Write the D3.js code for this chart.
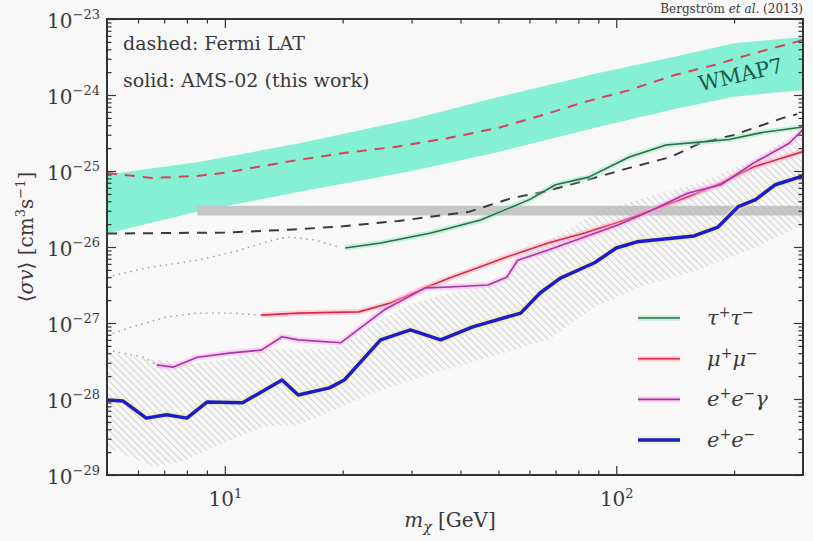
<!DOCTYPE html>
<html>
<head>
<meta charset="utf-8">
<script src="https://cdn.jsdelivr.net/npm/d3@7"></script>
<style>
body { margin: 0; background: #f8f8f8; }
svg text, svg tspan { font-family: "DejaVu Serif", "Liberation Serif", "Times New Roman", serif !important; fill: #3a3a3a; }
</style>
</head>
<body>
<div id="chart"></div>
<script>
// WMAP7 band (mass in GeV, <sigma v> in cm^3/s)
const wmapMass = [5, 8.5, 15.4, 30, 50, 90, 140, 200, 300];
const wmapLow  = [1.5e-26, 2.9e-26, 5.3e-26, 1.0e-25, 1.78e-25, 3.8e-25, 6.5e-25, 9.5e-25, 1.16e-24];
const wmapHigh = [9e-26, 1.3e-25, 2.3e-25, 4.8e-25, 9.4e-25, 1.95e-24, 3.16e-24, 4.8e-24, 5.8e-24];

// thermal relic grey band
const relicMass = [8.5, 300];
const relicLow = [2.6e-26, 2.6e-26];
const relicHigh = [3.5e-26, 3.5e-26];

// hatched uncertainty band for e+e-
const hatchMassUp = [5, 6.5, 8.5, 10, 13, 17, 20, 25, 30, 37, 50, 67, 90, 120, 163, 224, 300];
const hatchUp = [4.2e-28, 3.3e-28, 3.0e-28, 3.3e-28, 4.5e-28, 4.5e-28, 5e-28, 1.1e-27, 1.8e-27, 2.4e-27, 3.5e-27, 1.2e-26, 3.0e-26, 4.5e-26, 7e-26, 1.4e-25, 3.5e-25];
const hatchMassLow = [5, 6.6, 8, 9.3, 12.5, 15.4, 24, 30, 67, 90, 120, 163, 219, 300];
const hatchLow = [2.3e-29, 1.27e-29, 1.58e-29, 2.3e-29, 4.3e-29, 4.5e-29, 1.2e-28, 1.78e-28, 6e-28, 1.73e-27, 3.2e-27, 5e-27, 9.1e-27, 1.95e-26];

// Fermi LAT (dashed)
const fermiMuMass = [5, 6.5, 8.5, 10, 15.4, 20.6, 27.7, 37, 50, 65, 81, 108, 141, 179, 226, 280, 300];
const fermiMu = [9.4e-26, 8.1e-26, 8.6e-26, 9.5e-26, 1.4e-25, 1.75e-25, 2.1e-25, 2.7e-25, 3.7e-25, 5.45e-25, 7.8e-25, 1.16e-24, 1.83e-24, 2.5e-24, 3.57e-24, 4.8e-24, 5.3e-24];
const fermiTauMass = [5, 10, 15, 20, 27.7, 42, 54, 65, 81, 108, 138, 163, 199, 267, 290];
const fermiTau = [1.5e-26, 1.55e-26, 1.7e-26, 1.87e-26, 2.2e-26, 2.9e-26, 4.4e-26, 5.3e-26, 7.2e-26, 1.1e-25, 1.53e-25, 2.3e-25, 2.96e-25, 5e-25, 5.6e-25];

// AMS-02 (solid)
const tauMass = [20.3, 25, 33.6, 45, 60, 70, 85, 108, 134, 163, 194, 235, 300];
const tauVal = [9.7e-27, 1.13e-26, 1.53e-26, 2.26e-26, 4.2e-26, 6.6e-26, 8.3e-26, 1.53e-25, 2.2e-25, 2.4e-25, 2.6e-25, 3.2e-25, 3.8e-25];
const muMass = [12.4, 15.4, 22, 26.5, 32.5, 37.5, 45, 52.5, 67, 83, 101, 124, 152, 185, 224, 300];
const muVal = [1.27e-27, 1.35e-27, 1.4e-27, 1.83e-27, 2.9e-27, 3.9e-27, 5.5e-27, 7.4e-27, 1.13e-26, 1.53e-26, 2.1e-26, 3.1e-26, 4.55e-26, 6.9e-26, 1.13e-25, 1.8e-25];
const eegMass = [6.7, 7.4, 8.5, 10.4, 12.4, 14, 15.4, 19.8, 25.5, 32.5, 37.5, 47, 52.5, 56, 67, 83, 101, 124, 152, 185, 224, 276, 300];
const eegVal = [2.8e-28, 2.63e-28, 3.55e-28, 4.05e-28, 4.4e-28, 6.6e-28, 6.0e-28, 5.5e-28, 1.48e-27, 2.9e-27, 2.97e-27, 3.16e-27, 4.0e-27, 6.7e-27, 9.1e-27, 1.35e-26, 1.95e-26, 3.1e-26, 5.1e-26, 6.6e-26, 1.27e-25, 2.3e-25, 3.5e-25];
const eeMass = [5, 5.5, 6.3, 7.1, 8.0, 9.0, 11.1, 14, 15.4, 18.5, 20.2, 25, 29.8, 35.6, 43, 57, 64, 72, 88, 100, 113, 158, 182, 205, 227, 255, 300];
const eeVal = [9.7e-29, 9.4e-29, 5.6e-29, 6.2e-29, 5.6e-29, 9.1e-29, 8.9e-29, 1.78e-28, 1.13e-28, 1.4e-28, 1.78e-28, 6.0e-28, 8.1e-28, 6.0e-28, 8.9e-28, 1.35e-27, 2.5e-27, 3.9e-27, 6.2e-27, 9.7e-27, 1.17e-26, 1.4e-26, 1.83e-26, 3.4e-26, 4.2e-26, 6.6e-26, 8.6e-26];

// dotted extensions at low mass
const dotTauMass = [5, 6.3, 8.5, 10.5, 13.3, 14.6, 17, 19.5];
const dotTau = [4.0e-27, 5.3e-27, 6.7e-27, 8.6e-27, 1.24e-26, 1.35e-26, 1.24e-26, 1.0e-26];
const dotMuMass = [5, 5.8, 7.1, 8.5, 10.4, 12.4];
const dotMu = [6.9e-28, 8.9e-28, 1.2e-27, 1.35e-27, 1.35e-27, 1.27e-27];
const dotEegMass = [5, 6.2, 6.7];
const dotEeg = [4.4e-28, 3.55e-28, 2.8e-28];

const legendLabels = [["τ", "+", "τ", "−"], ["μ", "+", "μ", "−"], ["e", "+", "e", "−", "γ"], ["e", "+", "e", "−"]];
const xMajor = [10, 100];
const yMajor = [-29, -28, -27, -26, -25, -24, -23];

var W = 813, H = 541;
var margin = {top: 19, right: 10, bottom: 66, left: 107},
	width = W - margin.left - margin.right,
	height = H - margin.top - margin.bottom;

var svg = d3.select("#chart")
	.append("svg")
		.attr("width", W)
		.attr("height", H)
	.append("g")
		.attr("transform", "translate(" + margin.left + "," + margin.top + ")");

var xScale = d3.scaleLog().domain([5, 300]).range([0, width]);
var yScale = d3.scaleLog().domain([1e-29, 1e-23]).range([height, 0]);

var defs = svg.append("defs");
defs.append("clipPath").attr("id", "clip")
	.append("rect").attr("width", width).attr("height", height);
var pat = defs.append("pattern")
	.attr("id", "hatch")
	.attr("patternUnits", "userSpaceOnUse")
	.attr("width", 5).attr("height", 5)
	.attr("patternTransform", "rotate(-45)");
pat.append("line")
	.attr("x1", 0).attr("y1", 0).attr("x2", 0).attr("y2", 5)
	.attr("stroke", "#b4b4b4").attr("stroke-width", 1.1);

var plot = svg.append("g").attr("clip-path", "url(#clip)");

function band(mass, lo, hi) {
	return d3.area()
		.x((d, i) => xScale(mass[i]))
		.y0((d, i) => yScale(lo[i]))
		.y1((d, i) => yScale(hi[i]))(mass);
}
function pts(mass, vals) {
	return mass.map((m, i) => [xScale(m), yScale(vals[i])]);
}
var line = d3.line();

// WMAP7 band
plot.append("path")
	.attr("d", band(wmapMass, wmapLow, wmapHigh))
	.attr("fill", "#86f0d4");

// grey relic band
plot.append("path")
	.attr("d", band(relicMass, relicLow, relicHigh))
	.attr("fill", "#c6c6c6");

// hatched region
var hatchPoly = pts(hatchMassUp, hatchUp).concat(pts(hatchMassLow, hatchLow).reverse());
plot.append("path")
	.attr("d", line(hatchPoly) + "Z")
	.attr("fill", "url(#hatch)");

// dotted
[[dotTauMass, dotTau], [dotMuMass, dotMu], [dotEegMass, dotEeg]].forEach(function(s) {
	plot.append("path")
		.attr("d", line(pts(s[0], s[1])))
		.attr("fill", "none")
		.attr("stroke", "#9a9a9a")
		.attr("stroke-width", 1.4)
		.attr("stroke-dasharray", "1.5,4.5");
});

// Fermi dashed
plot.append("path")
	.attr("d", line(pts(fermiTauMass, fermiTau)))
	.attr("fill", "none").attr("stroke", "#3a3a3a")
	.attr("stroke-width", 2).attr("stroke-dasharray", "10,8");
plot.append("path")
	.attr("d", line(pts(fermiMuMass, fermiMu)))
	.attr("fill", "none").attr("stroke", "#d8405a")
	.attr("stroke-width", 2).attr("stroke-dasharray", "10,8");

// AMS-02 solid lines (thin coloured halo underneath, like the original)
var series = [
	{mass: tauMass, vals: tauVal, color: "#2f6a4c", halo: "#8fe8b8", w: 1.6},
	{mass: muMass, vals: muVal, color: "#d42c48", halo: "#ffa0b4", w: 1.6},
	{mass: eegMass, vals: eegVal, color: "#a43a9e", halo: "#ff9cf0", w: 1.6},
	{mass: eeMass, vals: eeVal, color: "#1c1ccc", halo: "#e6ee80", w: 3.5}
];
series.forEach(function(s) {
	plot.append("path")
		.attr("d", line(pts(s.mass, s.vals)))
		.attr("fill", "none")
		.attr("stroke", s.halo)
		.attr("stroke-opacity", 0.45)
		.attr("stroke-width", s.w + 4)
		.attr("stroke-linejoin", "round");
	plot.append("path")
		.attr("d", line(pts(s.mass, s.vals)))
		.attr("fill", "none")
		.attr("stroke", s.color)
		.attr("stroke-width", s.w)
		.attr("stroke-linejoin", "round");
});

// Axes (inward ticks, mirrored)
function decadeMinors(lo, hi) {
	var out = [];
	for (var e = lo; e < hi; e++) for (var k = 2; k <= 9; k++) out.push(k * Math.pow(10, e));
	return out;
}
var xMinor = decadeMinors(0, 3).filter(v => v > 5 && v < 300 && xMajor.indexOf(v) < 0);
var yMinor = decadeMinors(-29, -23);
var yMajorVals = yMajor.map(e => Math.pow(10, e));

function axisG(gen, tr) {
	return svg.append("g").attr("transform", tr).call(gen)
		.attr("font-family", null)
		.call(g => g.select(".domain").remove())
		.call(g => g.selectAll("line").attr("stroke", "#333").attr("stroke-width", 1.2));
}
axisG(d3.axisBottom(xScale).tickValues(xMinor).tickSize(-4.5).tickFormat(""), "translate(0," + height + ")");
axisG(d3.axisTop(xScale).tickValues(xMinor).tickSize(-4.5).tickFormat(""), "translate(0,0)");
axisG(d3.axisTop(xScale).tickValues(xMajor).tickSize(-9).tickFormat(""), "translate(0,0)");
axisG(d3.axisLeft(yScale).tickValues(yMinor).tickSize(-4.5).tickFormat(""), "translate(0,0)");
axisG(d3.axisRight(yScale).tickValues(yMinor).tickSize(-4.5).tickFormat(""), "translate(" + width + ",0)");
axisG(d3.axisRight(yScale).tickValues(yMajorVals).tickSize(-9).tickFormat(""), "translate(" + width + ",0)");

var xAxis = axisG(d3.axisBottom(xScale).tickValues(xMajor).tickSize(-9).tickPadding(13).tickFormat(""), "translate(0," + height + ")");
xAxis.selectAll(".tick text")
	.attr("dy", "0.9em")
	.style("font-size", "20px")
	.each(function(d) {
		var t = d3.select(this);
		t.append("tspan").text("10");
		t.append("tspan").attr("dy", -8).style("font-size", "13px").text(Math.round(Math.log10(d)));
	});

var yAxis = axisG(d3.axisLeft(yScale).tickValues(yMajorVals).tickSize(-9).tickPadding(7).tickFormat(""), "translate(0,0)");
yAxis.selectAll(".tick text")
	.attr("dy", "0.4em")
	.style("font-size", "20px")
	.each(function(d) {
		var t = d3.select(this);
		t.append("tspan").text("10");
		t.append("tspan").attr("dy", -9).style("font-size", "13px")
			.text("−" + Math.abs(Math.round(Math.log10(d))));
	});

// frame
svg.append("rect")
	.attr("width", width).attr("height", height)
	.attr("fill", "none").attr("stroke", "#333").attr("stroke-width", 2);

// Axes labels
var xlabel = svg.append("text")
	.attr("x", width / 2 - 5).attr("y", height + 52)
	.attr("text-anchor", "middle")
	.style("font-size", "20px");
xlabel.append("tspan").style("font-style", "italic").text("m");
xlabel.append("tspan").attr("dy", 5).style("font-style", "italic").style("font-size", "14px").text("χ");
xlabel.append("tspan").attr("dy", -5).text(" [GeV]");

var ylabel = svg.append("text")
	.attr("transform", "translate(-74," + (height / 2 - 10) + ") rotate(-90)")
	.attr("text-anchor", "middle")
	.style("font-size", "20px");
ylabel.append("tspan").text("⟨");
ylabel.append("tspan").style("font-style", "italic").text("σv");
ylabel.append("tspan").text("⟩ [cm");
ylabel.append("tspan").attr("dy", -8).style("font-size", "13px").text("3");
ylabel.append("tspan").attr("dy", 8).text("s");
ylabel.append("tspan").attr("dy", -8).style("font-size", "13px").text("−1");
ylabel.append("tspan").attr("dy", 8).text("]");

// annotations
svg.append("text").attr("x", 16).attr("y", 31).style("font-size", "19px").text("dashed: Fermi LAT");
svg.append("text").attr("x", 16).attr("y", 68).style("font-size", "19px").text("solid: AMS-02 (this work)");
svg.append("text")
	.attr("transform", "translate(" + (xScale(210)) + "," + (yScale(1.5e-24)) + ") rotate(-13)")
	.attr("text-anchor", "middle")
	.style("font-size", "21px").style("fill", "#1e5a48")
	.text("WMAP7");
var cite = svg.append("text")
	.attr("x", width).attr("y", -6)
	.attr("text-anchor", "end")
	.style("font-size", "12px");
cite.append("tspan").text("Bergström ");
cite.append("tspan").style("font-style", "italic").text("et al.");
cite.append("tspan").text(" (2013)");

// legend
var legend = svg.append("g").attr("transform", "translate(" + (638 - margin.left) + "," + (318 - margin.top) + ")");
series.forEach(function(s, i) {
	var row = legend.append("g").attr("transform", "translate(0," + (i * 40.7) + ")");
	row.append("line")
		.attr("x1", 0).attr("x2", 42)
		.attr("stroke", s.halo).attr("stroke-opacity", 0.45).attr("stroke-width", s.w + 4);
	row.append("line")
		.attr("x1", 0).attr("x2", 42)
		.attr("stroke", s.color).attr("stroke-width", s.w);
	var t = row.append("text").attr("x", 69).attr("y", 7).style("font-size", "21px").style("font-style", "italic");
	legendLabels[i].forEach(function(p, j) {
		var sup = (j % 2 === 1) && j < 4;
		t.append("tspan")
			.attr("dy", sup ? -8 : (j > 0 ? 8 : 0))
			.style("font-size", sup ? "14px" : "21px")
			.style("font-style", sup ? "normal" : "italic")
			.text(p);
	});
});
</script>
</body>
</html>
